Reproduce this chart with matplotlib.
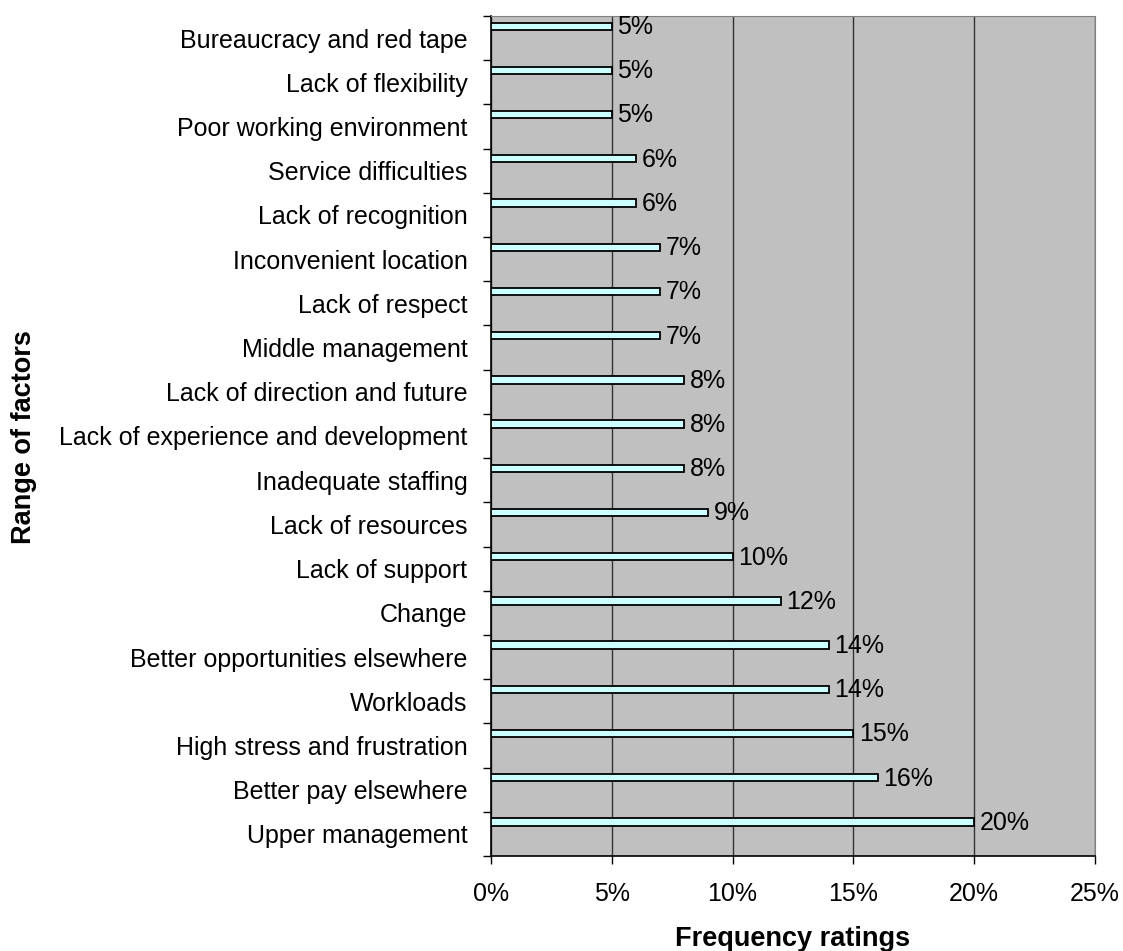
import matplotlib
matplotlib.use("Agg")
import matplotlib.pyplot as plt
import numpy as np

plt.rcParams['font.family'] = ['Liberation Sans', 'DejaVu Sans']

factors = ["Bureaucracy and red tape", "Lack of flexibility",
           "Poor working environment", "Service difficulties",
           "Lack of recognition", "Inconvenient location",
           "Lack of respect", "Middle management",
           "Lack of direction and future",
           "Lack of experience and development", "Inadequate staffing",
           "Lack of resources", "Lack of support", "Change",
           "Better opportunities elsewhere", "Workloads",
           "High stress and frustration", "Better pay elsewhere",
           "Upper management"]
ratings = [5, 5, 5, 6, 6, 7, 7, 7, 8, 8, 8, 9, 10, 12, 14, 14, 15, 16, 20]
x_ticks = [0, 5, 10, 15, 20, 25]

fig = plt.figure(figsize=(11.23, 9.51), dpi=100)
ax = fig.add_axes([491 / 1123, 1 - 856 / 951, 604 / 1123, 840 / 951])
ax.set_facecolor('#C0C0C0')

n = len(factors)
pos = np.arange(n)
ax.barh(pos - 0.27, ratings, height=0.165, color='#CCFFFF',
        edgecolor='black', linewidth=1.3, zorder=3)
for p, v in zip(pos, ratings):
    ax.text(v + 0.22, p - 0.25, "%d%%" % v, va='center', ha='left',
            fontsize=18, zorder=4)

ax.set_xlim(0, 25)
ax.set_ylim(n - 0.5, -0.5)
ax.set_xticks(x_ticks)
ax.set_xticklabels(["%d%%" % t for t in x_ticks], fontsize=18)
ax.xaxis.grid(True, color='#333333', linewidth=1)
ax.set_axisbelow(True)

# category labels centered in bands, ticks on band boundaries
ax.set_yticks(np.arange(n + 1) - 0.5)
ax.set_yticklabels([])
ax.set_yticks(pos, minor=True)
ax.set_yticklabels(factors, minor=True, fontsize=18)
ax.tick_params(axis='y', which='minor', length=0, pad=17)
ax.tick_params(axis='y', which='major', length=6, width=1, direction='out')
ax.tick_params(axis='x', length=6, width=1, direction='out', pad=13)

for s in ['top', 'right']:
    ax.spines[s].set_color('#808080')
for s in ['left', 'bottom']:
    ax.spines[s].set_color('black')
    ax.spines[s].set_linewidth(1.2)

fig.text(793 / 1123, 1 - 939 / 951, "Frequency ratings", ha='center',
         va='center', fontsize=19.5, fontweight='bold')
fig.text(24 / 1123, 1 - 437 / 951, "Range of factors", ha='center',
         va='center', rotation=90, fontsize=19.5, fontweight='bold')

fig.savefig("out.png", dpi=100)
